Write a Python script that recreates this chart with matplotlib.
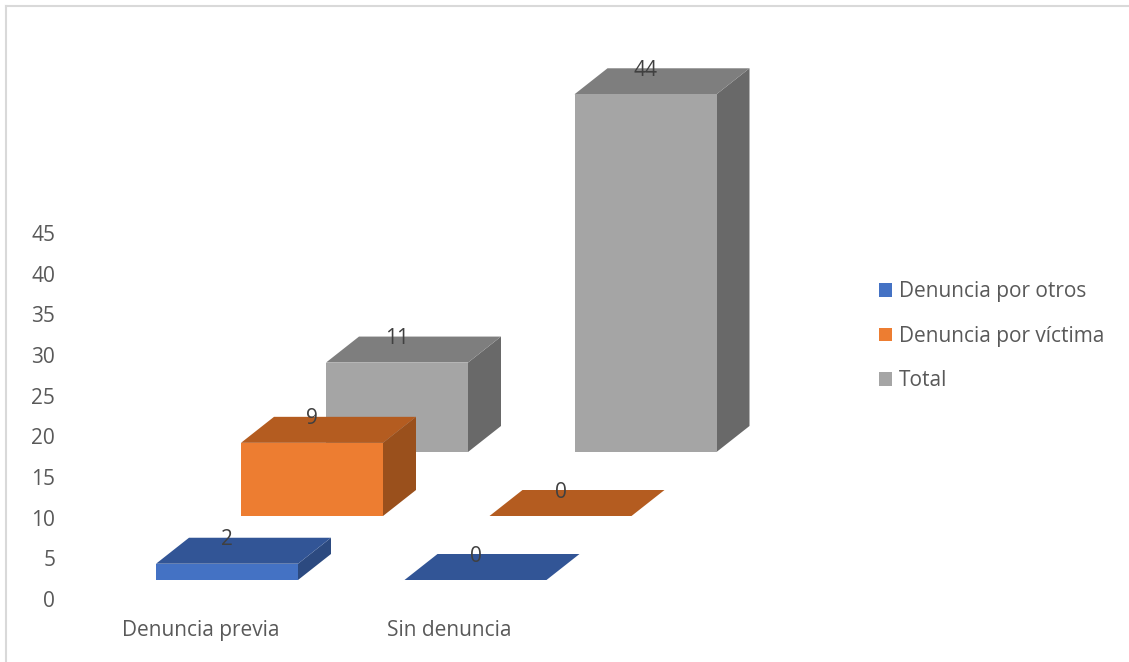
import matplotlib
matplotlib.use("Agg")
import matplotlib.pyplot as plt
from matplotlib.patches import Polygon, Patch

categories = ["Denuncia previa", "Sin denuncia"]
series_names = ["Denuncia por otros", "Denuncia por víctima", "Total"]
denuncia_otros = [2, 0]
denuncia_victima = [9, 0]
total = [11, 44]
y_ticks = [0, 5, 10, 15, 20, 25, 30, 35, 40, 45]

W, H = 1129, 662
PX_X = 248.5          # pixels per category
PX_Y = 8.13           # pixels per value unit
AX_L, AX_R, AX_T, AX_B = 60, 860, 100, 599

fig = plt.figure(figsize=(W / 100, H / 100), dpi=100, facecolor="white")
ax = fig.add_axes([AX_L / W, 1 - AX_B / H, (AX_R - AX_L) / W, (AX_B - AX_T) / H])
# category 0 centre sits at pixel 201
ax.set_xlim((AX_L - 201) / PX_X, (AX_R - 201) / PX_X)
ax.set_ylim(0, (AX_B - AX_T) / PX_Y)
ax.patch.set_alpha(0)
for s in ax.spines.values():
    s.set_visible(False)

FONT = "Open Sans"
TXT = "#595959"
FS = 15
ax.set_yticks(y_ticks)
ax.set_xticks(range(len(categories)))
ax.set_xticklabels(categories)
ax.tick_params(axis="y", length=0, pad=3.5, labelsize=FS, labelcolor=TXT)
ax.tick_params(axis="x", length=0, pad=15, labelsize=FS, labelcolor=TXT)
for t in ax.get_xticklabels() + ax.get_yticklabels():
    t.set_fontfamily(FONT)

series = [denuncia_otros, denuncia_victima, total]
front = ["#4472C4", "#ED7D31", "#A5A5A5"]
top = ["#325596", "#B45C20", "#7E7E7E"]
side = ["#2C4A80", "#9A501C", "#696969"]

bar_w = 142 / PX_X
depth_x, depth_y = 33 / PX_X, 26 / PX_Y
step_x, step_y = 85 / PX_X, 64 / PX_Y
base_x, base_y = (156 - 201) / PX_X, (599 - 580) / PX_Y

# back series first so the nearer ones overlap them
for i in reversed(range(len(series))):
    for c, v in enumerate(series[i]):
        x0 = c + base_x + i * step_x
        y0 = base_y + i * step_y
        x1, y1 = x0 + bar_w, y0 + v
        dx, dy = depth_x, depth_y
        z = 3 + 3 * (2 - i)
        ax.add_patch(Polygon([(x1, y0), (x1 + dx, y0 + dy), (x1 + dx, y1 + dy), (x1, y1)],
                             fc=side[i], ec="none", clip_on=False, zorder=z))
        ax.add_patch(Polygon([(x0, y1), (x1, y1), (x1 + dx, y1 + dy), (x0 + dx, y1 + dy)],
                             fc=top[i], ec="none", clip_on=False, zorder=z + 0.1))
        if v > 0:
            ax.add_patch(Polygon([(x0, y0), (x1, y0), (x1, y1), (x0, y1)],
                                 fc=front[i], ec="none", clip_on=False, zorder=z + 0.2))
        ax.text((x0 + x1) / 2, y1 + dy - 2 / PX_Y, str(v), ha="center", va="center",
                fontsize=FS, color="#404040", family=FONT, zorder=30, clip_on=False)

handles = [Patch(fc=c, ec="none") for c in front]
fig.legend(handles, series_names, loc="upper left", bbox_to_anchor=(871 / W, 1 - 273 / H),
           frameon=False, prop={"family": FONT, "size": FS}, labelcolor=TXT,
           handlelength=0.63, handleheight=0.63, handletextpad=0.33, labelspacing=1.13,
           borderpad=0.4, borderaxespad=0)

# outer chart frame (top and left edges)
fig.add_artist(plt.Line2D([6 / W, 1], [1 - 6 / H, 1 - 6 / H], color="#D9D9D9", lw=1.5))
fig.add_artist(plt.Line2D([6 / W, 6 / W], [0, 1 - 6 / H], color="#D9D9D9", lw=1.5))

fig.savefig("out.png", dpi=100)
